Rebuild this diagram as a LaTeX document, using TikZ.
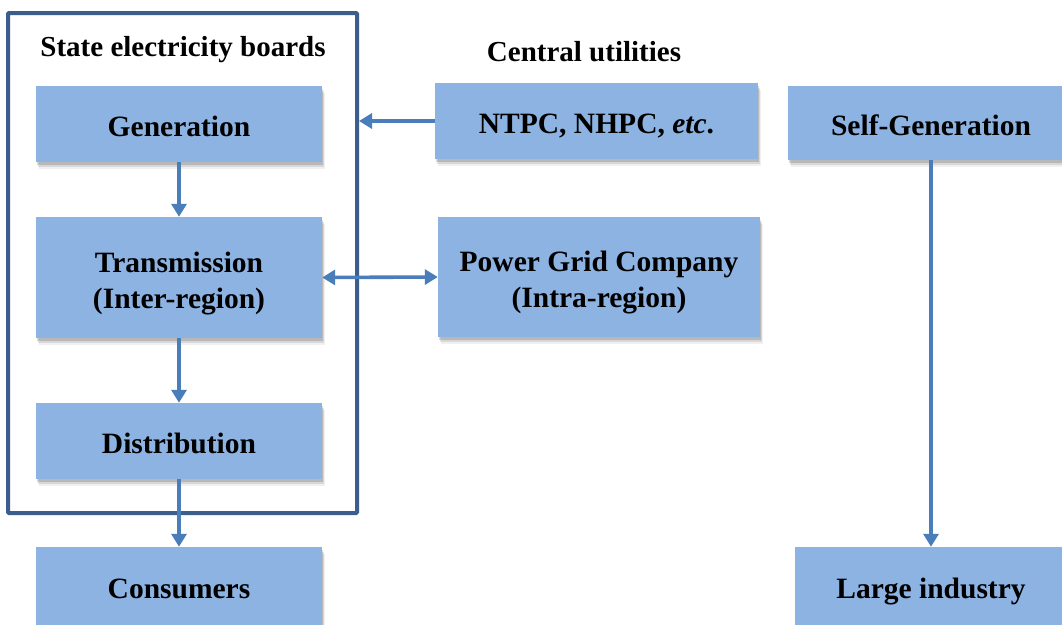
\documentclass[tikz,border=0pt]{standalone}
\usepackage{fontspec}
\setmainfont{Liberation Serif}
\usetikzlibrary{shadows,arrows.meta}
\definecolor{boxfill}{HTML}{8DB3E2}
\definecolor{arrowc}{HTML}{4A7EBB}
\definecolor{framec}{HTML}{3B5E8C}
\tikzset{
  blk/.style={fill=boxfill, draw=none, inner sep=0pt, align=center,
    text height=24pt, text depth=0pt,
    font=\fontsize{29.5}{36}\selectfont\bfseries,
    drop shadow={shadow xshift=3pt, shadow yshift=-7pt, fill=black, opacity=0.06},
    drop shadow={shadow xshift=2pt, shadow yshift=-5pt, fill=black, opacity=0.10},
    drop shadow={shadow xshift=1pt, shadow yshift=-3pt, fill=black, opacity=0.14}},
  twoline/.style={text height=61pt, text depth=0pt},
  conn/.style={draw=arrowc, line width=3.6pt, -{Triangle[width=15pt,length=13pt]}},
  dconn/.style={draw=arrowc, line width=3.6pt, {Triangle[width=15pt,length=13pt]}-{Triangle[width=15pt,length=13pt]}},
  ttl/.style={font=\fontsize{29}{36}\selectfont\bfseries}
}
\begin{document}
\begin{tikzpicture}[x=1pt,y=-1pt]
\useasboundingbox (0,0) rectangle (1062,624);
\clip (0,0) rectangle (1062,624);
\fill[white] (0,0) rectangle (1062,624);
% frame
\node[draw=framec, line width=4pt, rounded corners=1pt, minimum width=349pt, minimum height=500pt, inner sep=0pt] (frame) at (182.5,263) {};
\node[ttl] (sebt) at (183,50) {State electricity boards};
\node[ttl] (cut) at (584,52) {Central utilities};
% boxes
\node[blk, minimum width=286pt, minimum height=76pt] (gen) at (179,124) {Generation};
\node[blk, twoline, minimum width=286pt, minimum height=121pt] (tra) at (179,277.5) {Transmission\\(Inter-region)};
\node[blk, minimum width=286pt, minimum height=76pt] (dis) at (179,441) {Distribution};
\node[blk, minimum width=286pt, minimum height=78pt] (con) at (179,586) {Consumers};
\node[blk, minimum width=323pt, minimum height=76pt] (ntpc) at (596.5,121) {NTPC, NHPC, \textit{etc}.};
\node[blk, twoline, minimum width=322pt, minimum height=120pt] (pgc) at (599,277) {Power Grid Company\\(Intra-region)};
\node[blk, minimum width=286pt, minimum height=74pt] (self) at (931,123) {Self-Generation};
\node[blk, minimum width=272pt, minimum height=78pt] (ind) at (931,586) {Large industry};
% connectors
\draw[conn] (gen.south) -- (tra.north);
\draw[conn] (tra.south) -- (dis.north);
\draw[conn] (dis.south) -- (con.north);
\draw[conn] (ntpc.west) -- (frame.east |- ntpc.west);
\draw[dconn] (tra.east) -- (pgc.west);
\draw[conn] (self.south) -- (ind.north);
\end{tikzpicture}
\end{document}
